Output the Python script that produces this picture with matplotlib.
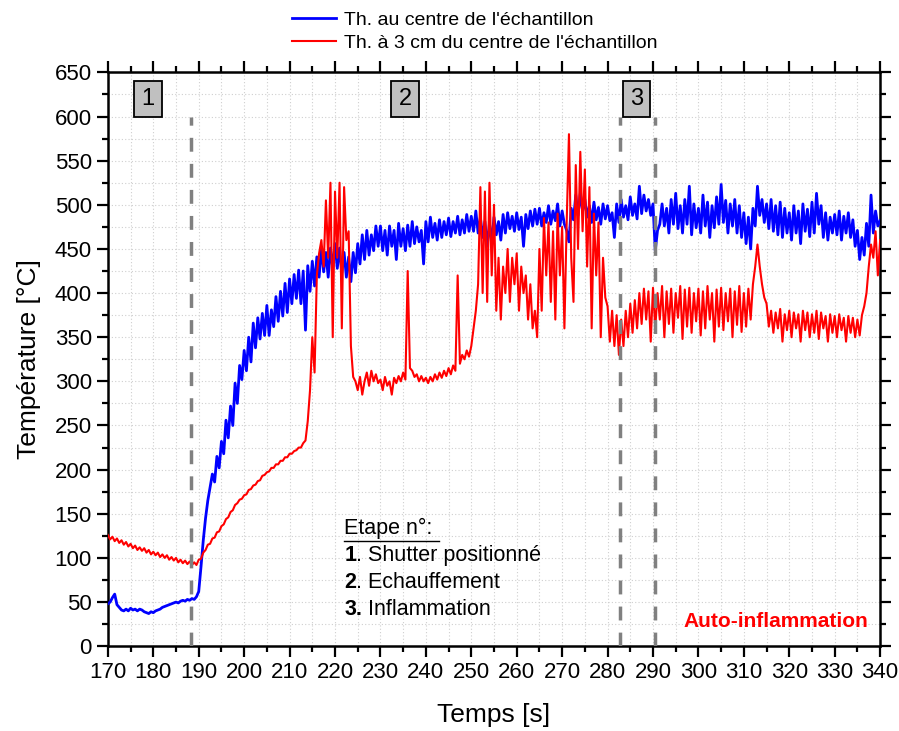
import numpy as np
import matplotlib
matplotlib.use("Agg")
import matplotlib.pyplot as plt
from matplotlib.ticker import MultipleLocator

plt.rcParams['font.family'] = ['Liberation Sans', 'DejaVu Sans']

# time base, one reading every 0.5 s
t_start, t_end, t_step = 170.0, 340.0, 0.5

# Th. au centre de l'echantillon
temp_centre = [
    48, 50, 55, 59, 47, 44, 41, 40, 42, 40,
    43, 41, 42, 40, 42, 41, 39, 38, 37, 39,
    38, 40, 41, 42, 44, 45, 46, 47, 48, 49,
    50, 49, 51, 52, 51, 53, 52, 54, 53, 56,
    62, 90, 120, 145, 165, 180, 195, 186, 215, 202,
    232, 218, 256, 236, 272, 250, 298, 275, 318, 302,
    335, 312, 350, 322, 366, 338, 372, 348, 377, 352,
    386, 352, 381, 362, 396, 368, 402, 374, 411, 378,
    416, 388, 421, 394, 426, 388, 425, 358, 431, 402,
    436, 408, 441, 418, 452, 424, 446, 418, 451, 428,
    456, 428, 451, 423, 446, 418, 441, 413, 446, 423,
    456, 433, 466, 438, 471, 443, 466, 448, 476, 453,
    476, 448, 471, 443, 476, 453, 471, 438, 479, 453,
    473, 448, 477, 453, 481, 456, 475, 458, 471, 433,
    481, 458, 486, 463, 479, 460, 483, 463, 481, 466,
    485, 464, 481, 468, 487, 466, 483, 468, 489, 470,
    487, 470, 493, 468, 486, 463, 481, 453, 479, 458,
    486, 466, 481, 460, 489, 468, 491, 473, 487, 470,
    491, 472, 486, 453, 489, 473, 493, 476, 495, 478,
    496, 476, 491, 480, 499, 478, 493, 482, 501, 476,
    493, 478, 471, 458, 496, 483, 511, 488, 513, 493,
    506, 486, 499, 480, 503, 483, 497, 478, 501, 484,
    499, 482, 491, 463, 501, 480, 506, 486, 499, 483,
    509, 488, 501, 484, 521, 490, 511, 493, 506, 488,
    501, 448, 471, 478, 501, 476, 496, 468, 506, 478,
    513, 473, 499, 468, 506, 478, 521, 466, 501, 474,
    496, 468, 511, 476, 503, 463, 499, 474, 509, 478,
    523, 480, 505, 468, 501, 476, 506, 468, 499, 463,
    491, 456, 486, 450, 496, 476, 521, 488, 506, 480,
    501, 473, 506, 470, 499, 466, 503, 463, 496, 468,
    491, 460, 499, 468, 493, 456, 501, 470, 495, 464,
    503, 468, 513, 478, 499, 463, 491, 460, 486, 468,
    489, 466, 493, 460, 487, 468, 491, 463, 483, 453,
    471, 438, 463, 443, 479, 453, 511, 468, 493, 476,
    482,
]

# Th. a 3 cm du centre de l'echantillon
temp_3cm = [
    126, 121, 124, 119, 122, 117, 120, 115, 118, 113,
    116, 111, 114, 109, 112, 108, 111, 106, 109, 104,
    107, 103, 106, 101, 104, 100, 103, 98, 101, 97,
    100, 95, 98, 94, 97, 93, 96, 92, 95, 92,
    98, 99, 106, 109, 115, 116, 122, 123, 129, 130,
    136, 138, 144, 146, 152, 154, 160, 162, 166, 167,
    171, 172, 177, 178, 182, 183, 187, 188, 193, 194,
    197, 198, 202, 202, 206, 206, 210, 210, 214, 214,
    218, 218, 221, 222, 225, 225, 230, 233, 255, 290,
    350, 310, 420, 445, 460, 430, 505, 440, 525, 350,
    515, 440, 525, 360, 520, 460, 470, 340, 305, 300,
    290, 305, 285, 300, 310, 295, 312, 300, 308, 298,
    302, 290, 305, 295, 300, 285, 304, 298, 306, 300,
    310, 302, 425, 315, 312, 305, 308, 300, 306, 300,
    304, 298, 305, 300, 308, 302, 310, 304, 312, 306,
    315, 308, 318, 312, 420, 320, 330, 325, 335, 328,
    340, 360, 380, 410, 520, 400, 515, 390, 525, 420,
    500, 380, 440, 370, 430, 400, 450, 390, 440, 410,
    445, 380, 430, 400, 420, 370, 410, 360, 380, 350,
    450, 380, 485, 420, 480, 390, 470, 370, 490, 420,
    475, 360, 480, 580, 440, 390, 545, 450, 560, 470,
    540, 430, 520, 360, 490, 420, 480, 350, 440, 395,
    385, 345, 380, 340, 375, 330, 370, 340, 380, 350,
    388, 355, 392, 360, 400, 365, 405, 370, 402, 345,
    406, 360, 400, 370, 408, 350, 402, 365, 405, 355,
    400, 372, 408, 348, 404, 362, 406, 355, 400, 368,
    405, 352, 402, 360, 408, 370, 400, 345, 404, 362,
    406, 358, 400, 368, 405, 350, 402, 364, 408, 356,
    400, 362, 405, 370, 410, 430, 455, 430, 410, 395,
    388, 362, 380, 355, 378, 360, 382, 345, 376, 358,
    380, 350, 378, 360, 376, 345, 380, 358, 378, 350,
    376, 355, 380, 348, 378, 360, 374, 345, 376, 355,
    374, 350, 376, 358, 372, 345, 374, 355, 372, 350,
    370, 352, 375, 385, 400, 430, 455, 440, 470, 420,
    460,
]

# stage markers
stage_lines = [188.3, 282.7, 290.5]
stage_labels = ["1", "2", "3"]
stage_label_x = [178.8, 235.4, 286.3]

# legend of the stages
stage_key = [("1", ". Shutter positionné"), ("2", ". Echauffement"), ("3.", " Inflammation")]

temps = np.arange(t_start, t_end + t_step / 2, t_step)

fig = plt.figure(figsize=(8.99, 7.31), dpi=100)
ax = fig.add_axes([0.120, 0.116, 0.859, 0.785])

ax.plot(temps, temp_centre, color='#0000ff', lw=2.0, label="Th. au centre de l'échantillon", zorder=3)
ax.plot(temps, temp_3cm, color='#ff0000', lw=1.5, label="Th. à 3 cm du centre de l'échantillon", zorder=4)

for xv in stage_lines:
    ax.plot([xv, xv], [0, 600], color='#808080', lw=2.5, ls=(0, (4, 3.5)), zorder=5)

for lab, xv in zip(stage_labels, stage_label_x):
    ax.text(xv, 620, lab, fontsize=17, ha='center', va='center', zorder=6,
            bbox=dict(boxstyle='square,pad=0.3', fc='#c0c0c0', ec='black', lw=1.3))

ax.set_xlim(170, 340)
ax.set_ylim(0, 650)
ax.xaxis.set_major_locator(MultipleLocator(10))
ax.xaxis.set_minor_locator(MultipleLocator(5))
ax.yaxis.set_major_locator(MultipleLocator(50))
ax.yaxis.set_minor_locator(MultipleLocator(25))
ax.grid(which='both', color='#cfcfcf', ls=(0, (1, 2)), lw=0.8, zorder=0)
ax.set_axisbelow(True)

ax.tick_params(which='both', direction='out', top=True, right=True, width=1.6, labelsize=16)
ax.tick_params(which='major', length=8)
ax.tick_params(which='minor', length=4.5)
for s in ax.spines.values():
    s.set_linewidth(1.8)

ax.set_xlabel("Temps [s]", fontsize=19, labelpad=14)
ax.set_ylabel("Température [°C]", fontsize=19, labelpad=10)

x0 = 0.306
ax.text(x0, 0.206, "Etape n°:", transform=ax.transAxes, fontsize=15.5, ha='left', va='center')
ax.plot([x0, x0 + 0.123], [0.184, 0.184], transform=ax.transAxes, color='black', lw=1)
for i, (num, rest) in enumerate(stage_key):
    yy = 0.158 - i * 0.047
    t1 = ax.text(x0, yy, num, transform=ax.transAxes, fontsize=15.5, fontweight='bold', ha='left', va='center')
    ax.annotate(rest, xy=(1, 0.5), xycoords=t1, fontsize=15.5, ha='left', va='center')
ax.text(0.985, 0.043, "Auto-inflammation", transform=ax.transAxes, fontsize=15, fontweight='bold',
        color='#ff0000', ha='right', va='center')

fig.legend(loc='upper center', bbox_to_anchor=(0.528, 1.008), frameon=False, fontsize=14,
           handlelength=2.3, labelspacing=0.25, handletextpad=0.4)

fig.savefig("out.png", dpi=100)
